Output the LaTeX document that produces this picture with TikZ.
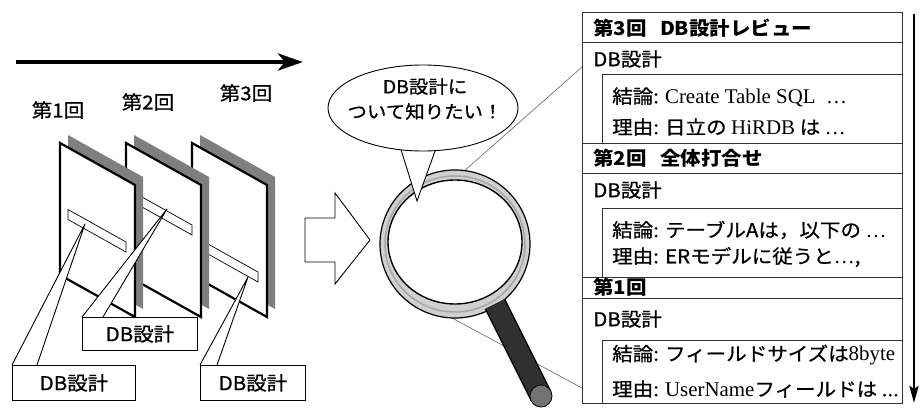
\documentclass[tikz,border=0pt]{standalone}
\usepackage{fontspec}
\setmainfont{Noto Sans CJK JP}[FakeStretch=1.08, UprightFeatures={FakeBold=0.8}]
\newfontfamily\tms{Liberation Serif}[Scale=1.1]
\usetikzlibrary{arrows.meta,shapes.geometric}
\definecolor{shade}{HTML}{7F7F7F}
\definecolor{ring}{HTML}{D0D0D0}
\definecolor{grip}{HTML}{303030}

\begin{document}
\begin{tikzpicture}[x=1pt, y=-1pt,
    every node/.style={font=\fontsize{19}{25}\selectfont, inner sep=0pt},
    sheet/.style={draw=black, line width=2.2pt, fill=white},
    sheetshadow/.style={fill=shade},
    strip/.style={draw=black, line width=0.7pt, fill=white},
    note/.style={rectangle, draw=black, line width=0.9pt, fill=white,
        anchor=north west, minimum height=35pt},
    wedge/.style={draw=black, line width=0.9pt, fill=white, line join=round},
    rule/.style={draw=black!80, line width=1pt},
    head/.style={anchor=west, font=\fontsize{19}{22}\selectfont\bfseries},
    item/.style={anchor=west},
    zoomline/.style={draw=black!55, line width=0.7pt},
]
\useasboundingbox (0,0) rectangle (921,412);

% time line on top
\coordinate (past) at (16,62);
\coordinate (now) at (303,62);
\draw[line width=4.5pt, -{Stealth[length=25pt, width=17pt, inset=7pt]}] (past) -- (now);

\node (lab1) at (58,110) {第1回};
\node (lab2) at (148,102) {第2回};
\node (lab3) at (246,93) {第3回};

% meeting sheets, back to front (left edge / drop of the strip)
\foreach \x/\off in {192/92, 126/45, 60/62} {
  \fill[sheetshadow] (\x+8,135) -- ++(75,42) -- ++(0,132) -- ++(-75,-42) -- cycle;
  \draw[sheet] (\x,143) -- ++(75,42) -- ++(0,132) -- ++(-75,-42) -- cycle;
  \draw[strip] (\x+8,147.5+\off) -- ++(58,32.5) -- ++(0,10) -- ++(-58,-32.5) -- cycle;
}

% callouts
\coordinate (tip1) at (85,224);
\coordinate (tip2) at (167,209);
\coordinate (tip3) at (248,277);
\coordinate (c1) at (12,365);
\coordinate (c2) at (82,317);
\coordinate (c3) at (200,365);
\draw[wedge] (c1) -- (tip1) -- ([xshift=25pt]c1);
\draw[wedge] (c2) -- (tip2) -- ([xshift=21pt]c2);
\draw[wedge] (c3) -- (tip3) -- ([xshift=17pt]c3);
\node[note, minimum width=123pt] (note1) at (c1) {DB設計};
\node[note, minimum width=115pt, minimum height=33pt] (note2) at (c2) {DB設計};
\node[note, minimum width=105pt] (note3) at (c3) {DB設計};

% hollow arrow
\draw[line width=0.9pt, fill=white] (305,218) -- (335,218) -- (335,193) -- (370,240)
    -- (335,284) -- (335,262) -- (305,262) -- cycle;

% zoom lines
\coordinate (lensTop) at (463,172);
\coordinate (lensBot) at (452,318);
\coordinate (tblTop) at (582,67);
\coordinate (tblBot) at (582,388);
\draw[zoomline] (lensTop) -- (tblTop);
\draw[zoomline] (lensBot) -- (tblBot);

% magnifier
\coordinate (lens) at (455,244);
\draw[line width=1.2pt, fill=ring] (lens) ellipse [x radius=75, y radius=74];
\draw[line width=1.5pt, black!35] (lens) ellipse [x radius=70, y radius=68];
\draw[line width=1.4pt, fill=white] (455,242) ellipse [x radius=67, y radius=62];
\coordinate (grip0) at (495,304);
\coordinate (grip1) at (541,396);
\draw[line width=23pt, black] (grip0) -- (grip1);
\draw[line width=20pt, grip] (grip0) -- (grip1);
\filldraw[fill=black!55, draw=black, line width=0.8pt] (grip1) circle [radius=11];

% speech bubble
\draw[line width=0.9pt, fill=white] (398,140) -- (417,201) -- (439,140);
\node[ellipse, draw, line width=0.9pt, fill=white, minimum width=190pt,
    minimum height=86pt] (bubble) at (423,108) {};
\node[align=center, font=\fontsize{18}{25}\selectfont] (ask) at (425,99) {DB設計に\\ついて知りたい！};

% minutes table
\draw[rule] (582,13) rectangle (902,403);
\foreach \y in {43,143,173,277,298} \draw[rule] (582,\y) -- (902,\y);
\foreach \t/\b in {75/143, 208/277, 340/403} \draw[rule] (602,\b) |- (902,\t);

\node[head] (r3) at (593,28) {第3回\hspace{0.7em}DB設計レビュー};
\node[item] (r3topic) at (593,59) {DB設計};
\node[item] (r3a) at (612,97) {結論: {\tms Create Table SQL\ \ …}};
\node[item] (r3b) at (612,127) {理由: 日立の {\tms HiRDB} は {\tms …}};
\node[head] (r2) at (593,158) {第2回\hspace{0.7em}全体打合せ};
\node[item] (r2topic) at (593,190) {DB設計};
\node[item] (r2a) at (612,230) {結論: テーブルAは，以下の {\tms …}};
\node[item] (r2b) at (612,257) {理由: ERモデルに従うと{\tms …},};
\node[head] (r1) at (593,287) {第1回};
\node[item] (r1topic) at (593,319) {DB設計};
\node[item] (r1a) at (612,355) {結論: フィールドサイズは{\tms 8byte}};
\node[item] (r1b) at (612,389) {理由: {\tms UserName}フィールドは ...};

% time runs downwards
\coordinate (newest) at (914,14);
\coordinate (oldest) at (914,403);
\draw[line width=2.6pt, -{Stealth[length=17pt, width=9pt, inset=3pt]}] (newest) -- (oldest);
\end{tikzpicture}
\end{document}
